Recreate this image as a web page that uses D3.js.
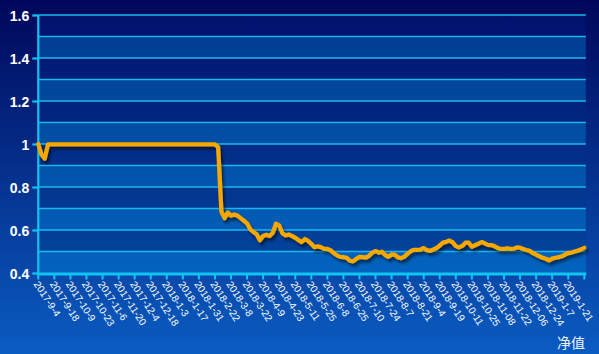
<!DOCTYPE html>
<html><head><meta charset="utf-8">
<script src="https://cdn.jsdelivr.net/npm/d3@7"></script>
<style>html,body{margin:0;padding:0;background:#0a3d9c;}svg{display:block;}</style>
</head><body>
<svg id="chart" width="599" height="354"></svg>
<script>
// tick labels on the category axis (every 10 trading days)
const tickLabels = ["2017-9-4","2017-9-18","2017-10-9","2017-10-23","2017-11-6","2017-11-20","2017-12-4","2017-12-18",
  "2018-1-3","2018-1-17","2018-1-31","2018-2-22","2018-3-8","2018-3-22","2018-4-9","2018-4-23","2018-5-11","2018-5-25",
  "2018-6-8","2018-6-25","2018-7-10","2018-7-24","2018-8-7","2018-8-21","2018-9-4","2018-9-19","2018-10-11","2018-10-25",
  "2018-11-08","2018-11-22","2018-12-06","2018-12-24","2019-1-7","2019-1-21"];
// net value, one reading every 2 trading days
const navValues = [
  1.0,0.95,0.932,0.998,0.998,0.998,0.998,0.998,0.998,0.998,
  0.998,0.998,0.998,0.998,0.998,0.998,0.998,0.998,0.998,0.998,
  0.998,0.998,0.998,0.998,0.998,0.998,0.998,0.998,0.998,0.998,
  0.998,0.998,0.998,0.998,0.998,0.998,0.998,0.998,0.998,0.998,
  0.998,0.998,0.998,0.998,0.998,0.998,0.998,0.998,0.998,0.998,
  0.998,0.998,0.998,0.998,0.998,0.998,0.985,0.686,0.655,0.681,
  0.667,0.672,0.667,0.655,0.643,0.631,0.603,0.591,0.580,0.552,
  0.572,0.578,0.572,0.587,0.629,0.621,0.585,0.575,0.579,0.572,
  0.564,0.553,0.544,0.558,0.549,0.536,0.520,0.524,0.520,0.512,
  0.512,0.506,0.493,0.482,0.475,0.474,0.471,0.457,0.454,0.466,
  0.475,0.474,0.472,0.480,0.495,0.502,0.495,0.499,0.484,0.475,
  0.486,0.485,0.473,0.469,0.476,0.490,0.502,0.508,0.508,0.509,
  0.516,0.506,0.503,0.509,0.516,0.528,0.541,0.545,0.551,0.543,
  0.525,0.519,0.526,0.541,0.541,0.522,0.529,0.536,0.544,0.538,
  0.531,0.530,0.525,0.517,0.512,0.512,0.515,0.512,0.513,0.519,
  0.518,0.512,0.507,0.503,0.493,0.485,0.478,0.471,0.466,0.459,
  0.467,0.471,0.474,0.478,0.485,0.493,0.495,0.500,0.504,0.510,
  0.517];
const yTickValues = [0.4,0.6,0.8,1.0,1.2,1.4,1.6];
const yGridValues = [0.4,0.5,0.6,0.7,0.8,0.9,1.0,1.1,1.2,1.3,1.4,1.5,1.6];
const seriesName = "净值";
const pointsPerTick = 5;

const W = 599, H = 354;
const L = 38.3, R = 584.3, T = 15, B = 273;
const svg = d3.select("#chart");
const defs = svg.append("defs");

function grad(id, c0, c1, y0, y1) {
  const g = defs.append("linearGradient").attr("id", id).attr("gradientUnits","userSpaceOnUse")
    .attr("x1",0).attr("x2",0).attr("y1",y0).attr("y2",y1);
  g.append("stop").attr("offset","0").attr("stop-color",c0);
  g.append("stop").attr("offset","1").attr("stop-color",c1);
}
grad("bg", "#00075a", "#0a5cc2", 0, H);
grad("dark", "#00116c", "#03479f", T, B);
grad("light", "#003b8c", "#0363bf", T, B);
const f = defs.append("filter").attr("id","sh").attr("x","-5%").attr("y","-20%").attr("width","110%").attr("height","140%");
f.append("feDropShadow").attr("dx",2).attr("dy",3).attr("stdDeviation",1.6).attr("flood-color","#000").attr("flood-opacity",0.55);

svg.append("rect").attr("width",W).attr("height",H).attr("fill","url(#bg)");

const x = d3.scaleLinear().domain([0, navValues.length - 1]).range([L, R]);
const y = d3.scaleLinear().domain([0.4, 1.6]).range([B, T]);

// bands
const bandTops = yGridValues.slice(1);
svg.append("g").selectAll("rect").data(bandTops).join("rect")
  .attr("x", L).attr("width", R - L + 1.5)
  .attr("y", d => y(d)).attr("height", d => y(d - 0.1) - y(d))
  .attr("fill", d => (Math.round(d * 10) % 2 === 0) ? "url(#dark)" : "url(#light)");

// grid lines
svg.append("g").selectAll("line").data(yGridValues.slice(1)).join("line")
  .attr("x1", L).attr("x2", R + 1.5).attr("y1", d => y(d)).attr("y2", d => y(d))
  .attr("stroke", "#1cb8ee").attr("stroke-width", 1.5);

// y axis
const yAxis = d3.axisLeft(y).tickValues(yTickValues).tickSize(6).tickPadding(3)
  .tickFormat(d => d3.format("~g")(d));
const yg = svg.append("g").attr("transform", `translate(${L},0)`).call(yAxis);
yg.select(".domain").attr("stroke", "#12c4f4").attr("stroke-width", 2.2).attr("d", `M0,${T}V${B}`);
yg.selectAll(".tick line").attr("stroke", "#12c4f4").attr("stroke-width", 2.2);
yg.selectAll(".tick text").attr("fill", "#ffffff").attr("font-family", "Liberation Sans, Arial, sans-serif")
  .attr("font-size", 14).attr("font-weight", "bold").attr("dy", "0.36em");

// x axis
const tickIdx = d3.range(0, navValues.length, pointsPerTick);
const xg = svg.append("g");
xg.append("line").attr("x1", L - 1).attr("x2", R + 2).attr("y1", 274).attr("y2", 274)
  .attr("stroke", "#12c4f4").attr("stroke-width", 3);
xg.selectAll("line.tk").data(tickIdx).join("line").attr("class","tk")
  .attr("x1", d => x(d)).attr("x2", d => x(d)).attr("y1", 274).attr("y2", 279.5)
  .attr("stroke", "#12c4f4").attr("stroke-width", 2);
xg.selectAll("text").data(tickLabels).join("text")
  .attr("transform", (d, i) => `translate(${x(i * pointsPerTick) - 2},${282}) rotate(57)`)
  .attr("text-anchor", "start").attr("dy", "0.35em")
  .attr("fill", "#ffffff").attr("font-family", "Liberation Sans, Arial, sans-serif").attr("font-size", 10)
  .text(d => d);

// line
const line = d3.line().x((d, i) => x(i)).y(d => y(d)).curve(d3.curveLinear);
svg.append("path").datum(navValues).attr("d", line)
  .attr("fill", "none").attr("stroke", "#f6a703").attr("stroke-width", 4.3)
  .attr("stroke-linejoin", "round").attr("stroke-linecap", "round").attr("filter", "url(#sh)");

// legend
const lg = svg.append("g");
lg.append("line").attr("x1", 532).attr("x2", 545).attr("y1", 343).attr("y2", 343)
  .attr("stroke", "#f6a703").attr("stroke-width", 5).attr("stroke-linecap", "round").attr("filter","url(#sh)");
lg.append("text").attr("x", 557).attr("y", 348).attr("fill", "#eef4ff")
  .attr("font-family", "Noto Sans CJK SC, sans-serif").attr("font-size", 14).text(seriesName);
</script>
</body></html>
